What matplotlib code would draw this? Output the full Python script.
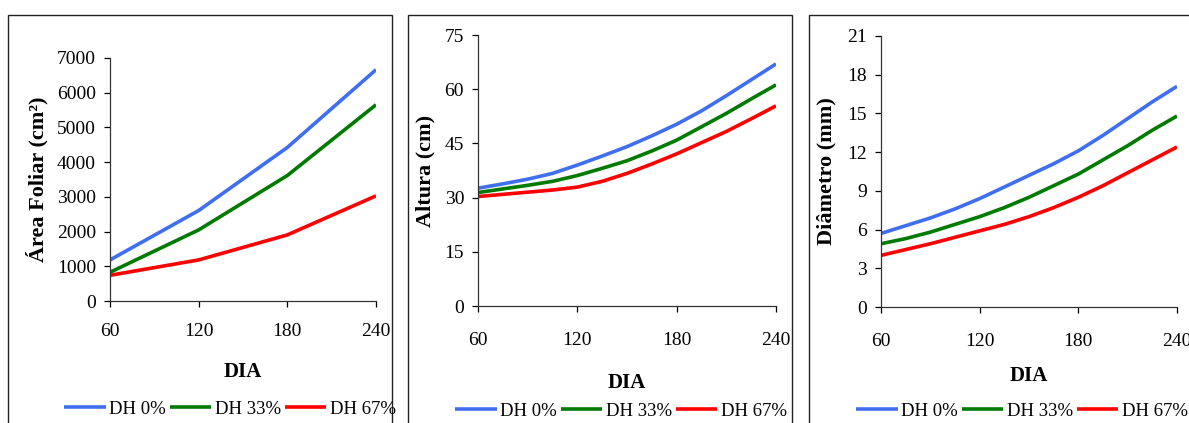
import numpy as np
import matplotlib
matplotlib.use("Agg")
import matplotlib.pyplot as plt
from matplotlib.patches import Rectangle

plt.rcParams['font.family'] = ['Liberation Serif', 'DejaVu Serif']

# data
dias_af = [60, 120, 180, 240]
af_0 = [1183, 2606, 4423, 6663]
af_33 = [827, 2048, 3615, 5654]
af_67 = [740, 1183, 1904, 3029]

dias = [60, 75, 90, 105, 120, 135, 150, 165, 180, 195, 210, 225, 240]
alt_0 = [32.6, 33.8, 35.1, 36.7, 39.0, 41.5, 44.1, 47.1, 50.3, 54.0, 58.2, 62.6, 67.0]
alt_33 = [31.4, 32.4, 33.4, 34.5, 36.1, 38.1, 40.2, 42.9, 45.9, 49.6, 53.3, 57.3, 61.2]
alt_67 = [30.3, 30.9, 31.5, 32.1, 32.9, 34.5, 36.7, 39.3, 42.1, 45.2, 48.3, 51.8, 55.4]

diam_0 = [5.7, 6.3, 6.9, 7.6, 8.4, 9.3, 10.2, 11.1, 12.1, 13.3, 14.6, 15.9, 17.1]
diam_33 = [4.9, 5.3, 5.8, 6.4, 7.0, 7.7, 8.5, 9.4, 10.3, 11.4, 12.5, 13.7, 14.8]
diam_67 = [4.0, 4.45, 4.9, 5.4, 5.9, 6.4, 7.0, 7.7, 8.5, 9.4, 10.4, 11.4, 12.4]

series_names = ['DH 0%', 'DH 33%', 'DH 67%']
cores = ['#3f6ff0', '#007a00', '#ff0000']
xticks = [60, 120, 180, 240]

W, H = 1189, 423
fig = plt.figure(figsize=(W / 100, H / 100), dpi=100)


def px_axes(l, t, r, b):
    return fig.add_axes([l / W, 1 - b / H, (r - l) / W, (b - t) / H])


def fx(x):
    return x / W


def fy(y):
    return 1 - y / H


panels = [
    dict(box=(8, 15, 392), ax=(110, 58, 376, 301), x=dias_af, ys=[af_0, af_33, af_67],
         yt=np.arange(0, 7001, 1000), ylab='Área Foliar (cm²)', ylx=37, xpad=12,
         xlab_y=372, leg=(230, 409)),
    dict(box=(408, 15, 792), ax=(478, 35, 776, 306), x=dias, ys=[alt_0, alt_33, alt_67],
         yt=np.arange(0, 76, 15), ylab='Altura (cm)', ylx=425, xpad=15,
         xlab_y=383, leg=(621, 411)),
    dict(box=(809, 15, 1260), ax=(881, 36, 1177, 307), x=dias, ys=[diam_0, diam_33, diam_67],
         yt=np.arange(0, 22, 3), ylab='Diâmetro (mm)', ylx=826, xpad=15,
         xlab_y=376, leg=(1022, 411)),
]

for p in panels:
    bl, bt, br = p['box']
    fig.patches.append(Rectangle((fx(bl), -0.1), fx(br - bl), fy(bt) + 0.1,
                                 transform=fig.transFigure, fill=False,
                                 edgecolor='#222222', linewidth=1.0))
    l, t, r, b = p['ax']
    ax = px_axes(l, t, r, b)
    handles = []
    for ys, c, nm in zip(p['ys'], cores, series_names):
        h, = ax.plot(p['x'], ys, color=c, linewidth=2.6, label=nm, solid_capstyle='butt')
        handles.append(h)
    ax.set_xlim(60, 240)
    ax.set_ylim(p['yt'][0], p['yt'][-1])
    ax.set_xticks(xticks)
    ax.set_yticks(p['yt'])
    ax.spines['top'].set_visible(False)
    ax.spines['right'].set_visible(False)
    for s in ('left', 'bottom'):
        ax.spines[s].set_color('#333333')
        ax.spines[s].set_linewidth(0.9)
    ax.tick_params(axis='x', direction='out', length=4, width=0.9, pad=p['xpad'], labelsize=14)
    ax.tick_params(axis='y', direction='out', length=4, width=0.9, pad=6, labelsize=14)
    ax.patch.set_alpha(0)
    fig.text(fx(p['ylx']), fy((t + b) / 2), p['ylab'], rotation=90, fontsize=16,
             fontweight='bold', ha='center', va='center')
    fig.text(fx((l + r) / 2), fy(p['xlab_y']), 'DIA', fontsize=15, fontweight='bold',
             ha='center', va='center')
    lx, ly = p['leg']
    fig.legend(handles=handles, loc='center', bbox_to_anchor=(fx(lx), fy(ly)), ncol=3,
               frameon=False, fontsize=13.5, handlelength=2.2, handletextpad=0.2,
               columnspacing=0.2, borderaxespad=0, borderpad=0)

fig.savefig('out.png', dpi=100)
